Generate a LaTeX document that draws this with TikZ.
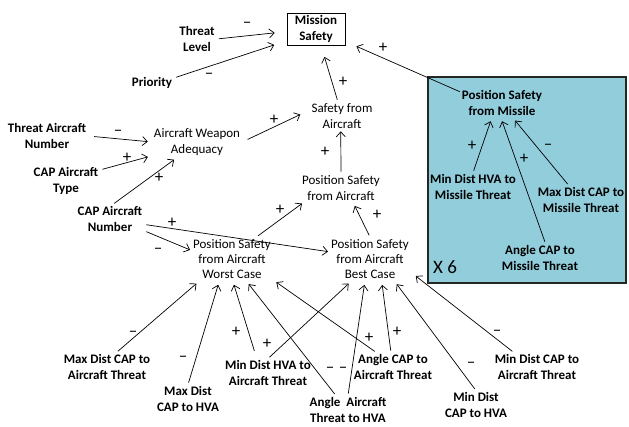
\documentclass[tikz,border=0pt]{standalone}
\usepackage{fontspec}
\setmainfont{Carlito}
\usetikzlibrary{arrows.meta}
\definecolor{missile}{RGB}{146,205,220}
\newcommand{\nsize}{\fontsize{13}{15.2}\selectfont}

\begin{document}
\begin{tikzpicture}[x=1pt, y=-1pt,
  var/.style={font=\nsize\bfseries, align=center, inner sep=2pt},
  aux/.style={font=\nsize, align=center, inner sep=2pt},
  sgn/.style={font=\fontsize{17}{18}\selectfont, inner sep=0pt},
  arr/.style={-{Straight Barb[length=5pt,width=9pt]}, line width=0.7pt, shorten >=4pt, shorten <=2pt}]

\useasboundingbox (0,0) rectangle (629,426);

	% missile group
\draw [fill=missile, line width=1.6pt, draw=black!85] (428,77) rectangle (626,283);
\node [font=\fontsize{19}{22}\selectfont, inner sep=0pt] (x6) at (445,267) {X 6};

	% top
\node [var, draw, line width=0.8pt, minimum width=58pt, minimum height=32pt] (ms) at (316,29) {Mission\\Safety};
\node [var] (tl) at (197,39) {Threat\\Level};
\node [var] (pr) at (152,83) {Priority};
\node [aux] (sfa) at (342,116) {Safety from\\Aircraft};

	% missile side
\node [var] (psm) at (502,103) {Position Safety\\from Missile};
\node [var] (mdhm) at (473,187) {Min Dist HVA to\\Missile Threat};
\node [var] (mxm) at (581,200) {Max Dist CAP to\\Missile Threat};
\node [var] (acm) at (540,258) {Angle CAP to\\Missile Threat};

	% aircraft side
\node [var] (tan) at (47,136) {Threat Aircraft\\Number};
\node [aux] (awa) at (197,142) {Aircraft Weapon\\Adequacy};
\node [var] (cat) at (66,181) {CAP Aircraft\\Type};
\node [var] (can) at (110,219) {CAP Aircraft\\Number};
\node [aux] (psa) at (341,188) {Position Safety\\from Aircraft};
\node [aux] (wc) at (232,259) {Position Safety\\from Aircraft\\Worst Case};
\node [aux] (bc) at (370,259) {Position Safety\\from Aircraft\\Best Case};

	% bottom row
\node [var] (mxat) at (107,367) {Max Dist CAP to\\Aircraft Threat};
\node [var] (mxhva) at (188,399) {Max Dist\\CAP to HVA};
\node [var] (mdhat) at (268,373) {Min Dist HVA to\\Aircraft Threat};
\node [var] (aath) at (348,410) {Angle\ \ Aircraft\\Threat to HVA};
\node [var] (acat) at (393,367) {Angle CAP to\\Aircraft Threat};
\node [var] (mdhva) at (476,405) {Min Dist\\CAP to HVA};
\node [var] (mdat) at (537,367) {Min Dist CAP to\\Aircraft Threat};

	% into mission safety
\draw [arr, shorten >=12pt] (tl.east) -- (ms.185);
\draw [arr, shorten >=13pt] (pr.13) -- (ms.202);
\draw [arr, shorten >=12pt] (sfa.106) -- (ms.-73);
\draw [arr, shorten >=12pt, shorten <=0pt] (psm.165) -- (ms.-23);
\node [sgn] (s1) at (247,25) {--};
\node [sgn] (s2) at (209,76) {--};
\node [sgn] (s3) at (343,82) {+};
\node [sgn] (s4) at (383,48) {+};

	% missile arrows
\draw [arr] (mdhm.north) -- (psm.-125);
\draw [arr] (acm.69) -- (psm.-95);
\draw [arr] (mxm.130) -- (psm.-54);
\node [sgn] (s5) at (472,146) {+};
\node [sgn] (s6) at (524,159) {+};
\node [sgn] (s7) at (548,147) {--};

	% weapon adequacy
\draw [arr, shorten <=6pt] (tan.east) -- (awa.west);
\draw [arr] (cat.18) -- (awa.197);
\draw [arr] (can.80) -- (awa.218);
\draw [arr, shorten <=6pt, shorten >=10pt] (awa.east) -- (sfa.170);
\node [sgn] (s8) at (118,133) {--};
\node [sgn] (s9) at (127,158) {+};
\node [sgn] (s10) at (159,178) {+};
\node [sgn] (s11) at (274,120) {+};

	% position safety from aircraft
\draw [arr, shorten >=1pt] (psa.north) -- (sfa.-95);
\draw [arr, shorten >=2pt] (wc.42) -- (psa.201);
\draw [arr] (bc.north) -- (psa.-50);
\draw [arr, shorten >=1pt] (can.-9) -- (bc.170);
\draw [arr, shorten >=1pt] (can.-19) -- (wc.168);
\node [sgn] (s12) at (325,152) {+};
\node [sgn] (s13) at (280,210) {+};
\node [sgn] (s14) at (377,215) {+};
\node [sgn] (s15) at (172,223) {+};
\node [sgn] (s16) at (158,251) {--};

	% worst case inputs
\draw [arr] (mxat.57) -- (wc.214);
\draw [arr] (mxhva.north) -- (wc.-120);
\draw [arr, shorten <=8pt] (mdhat.128) -- (wc.-88);
\draw [arr] (aath.130) -- (wc.-57);
\draw [arr] (acat.139) -- (wc.-27);
\node [sgn] (s17) at (133,334) {--};
\node [sgn] (s18) at (183,359) {--};
\node [sgn] (s19) at (236,332) {+};
\node [sgn] (s20) at (330,370) {--};
\node [sgn] (s21) at (369,338) {+};

	% best case inputs
\draw [arr] (mdhat.north) -- (bc.-130);
\draw [arr] (aath.north) -- (bc.-103);
\draw [arr] (acat.98) -- (bc.-62);
\draw [arr] (mdhva.north) -- (bc.-42);
\draw [arr, shorten >=6pt] (mdat.148) -- (bc.-18);
\node [sgn] (s22) at (267,344) {+};
\node [sgn] (s23) at (343,370) {--};
\node [sgn] (s24) at (397,332) {+};
\node [sgn] (s25) at (471,365) {--};
\node [sgn] (s26) at (497,333) {--};

\end{tikzpicture}
\end{document}
